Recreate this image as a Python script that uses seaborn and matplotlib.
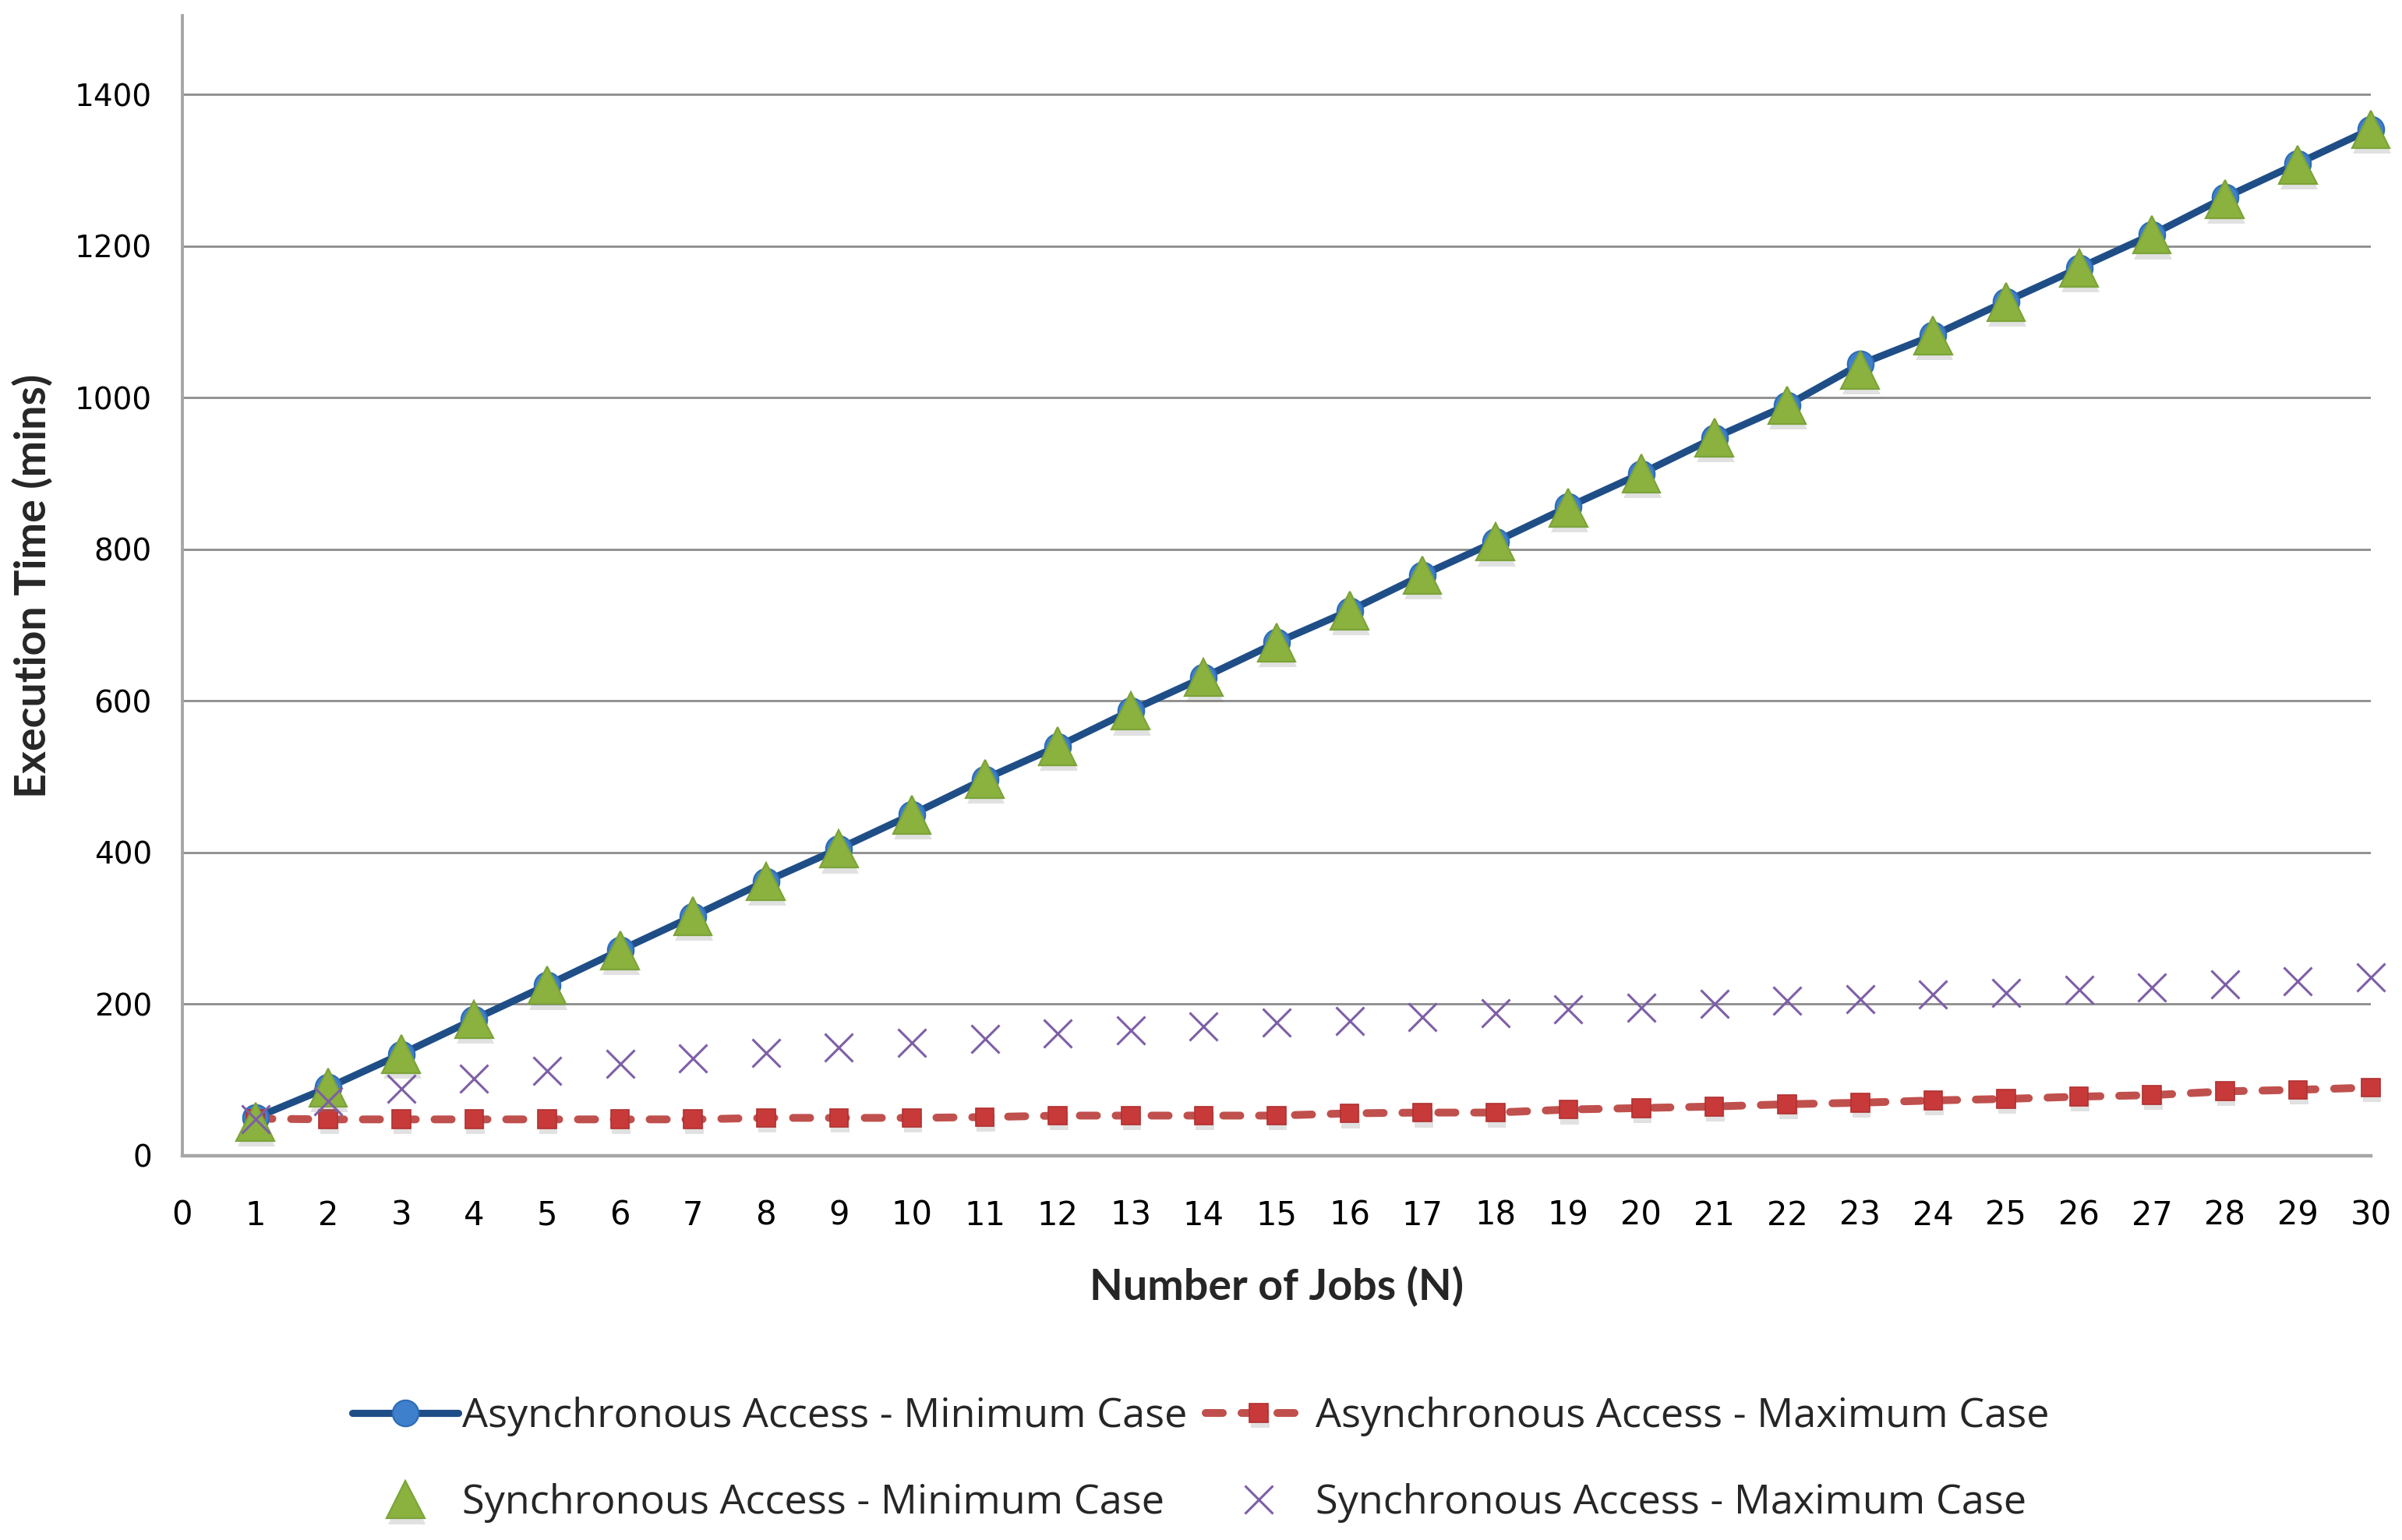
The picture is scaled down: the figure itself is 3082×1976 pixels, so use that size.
import numpy as np
import pandas as pd
import matplotlib
matplotlib.use("Agg")
import matplotlib.pyplot as plt
import matplotlib.patheffects as pe
import seaborn as sns

# Data
jobs = list(range(1, 31))
async_min = [50, 90, 134, 180, 225, 271, 316, 362, 405, 450,
             497, 540, 587, 631, 677, 719, 766, 810, 856, 900,
             947, 990, 1044, 1082, 1127, 1171, 1215, 1264, 1309, 1354]
async_max = [49, 48, 48, 48, 48, 48, 48, 50, 50, 50,
             51, 53, 53, 53, 53, 56, 57, 57, 61, 63,
             65, 68, 70, 73, 75, 78, 80, 85, 87, 90]
sync_min = [45, 90, 134, 180, 225, 271, 316, 362, 405, 450,
            497, 540, 587, 631, 677, 719, 766, 810, 855, 900,
            947, 990, 1037, 1082, 1126, 1171, 1215, 1262, 1307, 1354]
sync_max = [48, 72, 88, 102, 112, 121, 129, 136, 143, 149,
            154, 161, 166, 171, 176, 178, 183, 188, 193, 195,
            200, 205, 207, 213, 215, 219, 222, 226, 230, 235]

labels = ["Asynchronous Access - Minimum Case",
          "Asynchronous Access - Maximum Case",
          "Synchronous Access - Minimum Case",
          "Synchronous Access - Maximum Case"]

df = pd.DataFrame({"N": jobs, "amin": async_min, "amax": async_max,
                   "smin": sync_min, "smax": sync_max})

sns.set_theme(style="white")
plt.rcParams["font.family"] = ["DejaVu Sans"]

fig = plt.figure(figsize=(15.41, 9.88), dpi=200)
ax = fig.add_axes([0.0759, 0.2495, 0.987 - 0.0759, 0.9899 - 0.2495])

# soft drop shadow like the spreadsheet markers
shadow = [pe.SimplePatchShadow(offset=(0.6, -2.6), shadow_rgbFace="#777777", alpha=0.22), pe.Normal()]

# async minimum: solid navy line with blue circles
sns.lineplot(data=df, x="N", y="amin", ax=ax, color="#1F4E87", linewidth=3.3,
             errorbar=None, clip_on=False, zorder=3)
h_amin_line = ax.lines[-1]
sns.lineplot(data=df, x="N", y="amin", ax=ax, linestyle="none", marker="o",
             markersize=12, markerfacecolor="#3F80CC", markeredgecolor="#2F6CB5",
             markeredgewidth=0.8, errorbar=None, clip_on=False, zorder=4)
h_amin_mk = ax.lines[-1]

# async maximum: dashed red line with squares
sns.lineplot(data=df, x="N", y="amax", ax=ax, color="#C0504D", linewidth=3.6,
             errorbar=None, clip_on=False, zorder=3)
h_amax_line = ax.lines[-1]
h_amax_line.set_dashes((2.2, 2.4))
h_amax_line.set_dash_capstyle("round")
sns.lineplot(data=df, x="N", y="amax", ax=ax, linestyle="none", marker="s",
             markersize=8.5, markerfacecolor="#C83A3A", markeredgecolor="#B03030",
             markeredgewidth=0.6, errorbar=None, clip_on=False, zorder=4)
h_amax_mk = ax.lines[-1]
h_amax_mk.set_path_effects(shadow)

# sync minimum: green triangles
sns.lineplot(data=df, x="N", y="smin", ax=ax, linestyle="none", marker="^",
             markersize=17.5, markerfacecolor="#8BB23F", markeredgecolor="#7CA33A",
             markeredgewidth=0.8, errorbar=None, clip_on=False, zorder=5)
h_smin = ax.lines[-1]
h_smin.set_path_effects(shadow)

# sync maximum: purple crosses
sns.lineplot(data=df, x="N", y="smax", ax=ax, linestyle="none", marker="x",
             markersize=13, markeredgecolor="#7D5FA6", markeredgewidth=1.1,
             errorbar=None, clip_on=False, zorder=6)
h_smax = ax.lines[-1]

ax.set_xlim(0, 30)
ax.set_ylim(0, 1504)
ax.set_xticks(range(0, 31))
ax.set_yticks(range(0, 1401, 200))
ax.tick_params(axis="x", length=0, pad=20, labelsize=15, colors="#000000")
ax.tick_params(axis="y", length=0, pad=14, labelsize=14, colors="#000000")

ax.yaxis.grid(True, color="#8C8C8C", linewidth=1.0)
ax.xaxis.grid(False)
ax.set_axisbelow(True)
for s in ["top", "right"]:
    ax.spines[s].set_visible(False)
ax.spines["left"].set_color("#A6A6A6")
ax.spines["left"].set_linewidth(1.4)
ax.spines["bottom"].set_color("#A6A6A6")
ax.spines["bottom"].set_linewidth(1.6)

ax.set_xlabel("Number of Jobs (N)", family=["Lato", "DejaVu Sans"], fontweight="bold",
              fontsize=20, labelpad=16)
ax.set_ylabel("Execution Time (mins)", family=["Lato", "DejaVu Sans"], fontweight="bold",
              fontsize=20, labelpad=10)

handles = [(h_amin_line, h_amin_mk), h_smin, (h_amax_line, h_amax_mk), h_smax]
fig.legend(handles, [labels[0], labels[2], labels[1], labels[3]],
           loc="center", bbox_to_anchor=(0.5, 0.052), ncol=2, frameon=False,
           prop={"family": ["Open Sans", "DejaVu Sans"], "size": 18.8},
           handlelength=2.6, handletextpad=0.1, columnspacing=0.45,
           labelspacing=1.15)

fig.savefig("out.png", dpi=200)
